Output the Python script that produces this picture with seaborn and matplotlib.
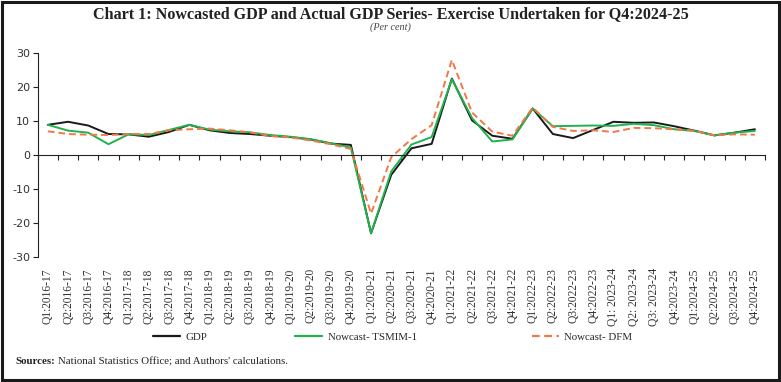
import matplotlib
matplotlib.use("Agg")
import matplotlib.pyplot as plt
import seaborn as sns
import pandas as pd
import numpy as np
from matplotlib.patches import Rectangle
from matplotlib.lines import Line2D

quarters = [
    "Q1:2016-17", "Q2:2016-17", "Q3:2016-17", "Q4:2016-17",
    "Q1:2017-18", "Q2:2017-18", "Q3:2017-18", "Q4:2017-18",
    "Q1:2018-19", "Q2:2018-19", "Q3:2018-19", "Q4:2018-19",
    "Q1:2019-20", "Q2:2019-20", "Q3:2019-20", "Q4:2019-20",
    "Q1:2020-21", "Q2:2020-21", "Q3:2020-21", "Q4:2020-21",
    "Q1:2021-22", "Q2:2021-22", "Q3:2021-22", "Q4:2021-22",
    "Q1:2022-23", "Q2:2022-23", "Q3:2022-23", "Q4:2022-23",
    "Q1: 2023-24", "Q2: 2023-24", "Q3: 2023-24", "Q4:2023-24",
    "Q1:2024-25", "Q2:2024-25", "Q3:2024-25", "Q4:2024-25",
]
gdp = [8.9, 9.8, 8.7, 6.2, 6.1, 5.4, 6.8, 8.9, 7.3, 6.5, 6.2, 5.7,
       5.3, 4.6, 3.4, 3.0, -23.0, -5.8, 2.0, 3.3, 22.5, 10.2, 5.7, 4.8,
       13.7, 6.2, 5.0, 7.4, 9.8, 9.5, 9.6, 8.5, 7.2, 5.8, 6.6, 7.6]
tsmim = [8.9, 7.2, 6.6, 3.2, 6.1, 5.9, 7.4, 8.9, 7.5, 7.0, 6.7, 5.9,
         5.4, 4.7, 3.5, 2.2, -23.0, -4.8, 3.1, 5.3, 22.3, 10.9, 4.0, 4.6,
         13.7, 8.5, 8.6, 8.7, 8.6, 9.2, 8.8, 7.6, 7.1, 5.8, 6.6, 7.1]
dfm = [7.0, 6.2, 6.0, 5.9, 6.2, 6.2, 7.3, 7.6, 7.8, 7.3, 6.7, 5.6,
       5.2, 4.3, 3.2, 1.8, -17.2, -0.6, 4.7, 8.8, 28.0, 12.5, 6.9, 5.7,
       14.0, 8.3, 7.1, 7.3, 6.8, 8.0, 7.9, 7.6, 7.2, 5.8, 6.1, 6.0]

series_names = ["GDP", "Nowcast- TSMIM-1", "Nowcast- DFM"]
colors = {"GDP": "#1a1a1a", "Nowcast- TSMIM-1": "#22b24c", "Nowcast- DFM": "#f0784a"}
dashes = {"GDP": "", "Nowcast- TSMIM-1": "", "Nowcast- DFM": (3.5, 2)}

idx = np.arange(len(quarters))
df = pd.concat([
    pd.DataFrame({"x": idx, "value": gdp, "series": "GDP"}),
    pd.DataFrame({"x": idx, "value": tsmim, "series": "Nowcast- TSMIM-1"}),
    pd.DataFrame({"x": idx, "value": dfm, "series": "Nowcast- DFM"}),
], ignore_index=True)

sns.set_theme(style="white")
plt.rcParams["font.family"] = ["DejaVu Sans"]
plt.rcParams["axes.unicode_minus"] = False

W, H = 781, 382
fig = plt.figure(figsize=(W / 100, H / 100), dpi=100)
ax = fig.add_axes([0.0483, 0.327, 0.9312, 0.534])

sns.lineplot(data=df, x="x", y="value", hue="series", style="series",
             hue_order=series_names, style_order=series_names,
             palette=colors, dashes=dashes, linewidth=1.4, ax=ax, legend=False)

ax.set_xlim(-0.5, len(quarters) - 0.5)
ax.set_ylim(-30, 30)
ax.set_yticks([-30, -20, -10, 0, 10, 20, 30])
ax.tick_params(axis="y", labelsize=8, length=3.5, width=0.8, color="#222222",
               labelcolor="#333333", direction="out", left=True, pad=2)
ax.set_xlabel("")
ax.set_ylabel("")

for s in ["top", "right"]:
    ax.spines[s].set_visible(False)
ax.spines["left"].set_color("#222222")
ax.spines["left"].set_linewidth(0.8)
ax.spines["bottom"].set_position(("data", 0))
ax.spines["bottom"].set_color("#222222")
ax.spines["bottom"].set_linewidth(0.8)
ax.set_xticks(np.arange(-0.5, len(quarters), 1.0))
ax.tick_params(axis="x", bottom=True, length=3.5, width=0.8, color="#222222",
               direction="out", labelbottom=False)

sec = ax.secondary_xaxis("bottom")
sec.set_xticks(idx)
sec.set_xticklabels(quarters, rotation=90, fontsize=8.3, color="#333333",
                    family="Liberation Serif")
sec.tick_params(length=0, pad=8)
sec.spines["bottom"].set_visible(False)

# Title & subtitle
fig.text(0.5, 0.963, "Chart 1: Nowcasted GDP and Actual GDP Series- Exercise Undertaken for Q4:2024-25",
         ha="center", va="center", fontsize=11.6, fontweight="bold",
         family="Liberation Serif", color="#222222")
fig.text(0.5, 0.928, "(Per cent)", ha="center", va="center", fontsize=7.3,
         style="italic", family="Liberation Serif", color="#444444")

# Legend (three separate entries positioned like the reference)
leg_x = [153, 295, 532]
for name, lx in zip(series_names, leg_x):
    h = Line2D([0], [0], color=colors[name], lw=1.6,
               linestyle=(0, dashes[name]) if dashes[name] else "-")
    fig.legend([h], [name], loc="center left",
               bbox_to_anchor=(lx / W, 1 - 337 / H),
               frameon=False, handlelength=2.5, handletextpad=0.5,
               borderpad=0, borderaxespad=0,
               prop={"family": "Liberation Serif", "size": 7.8})

# Sources
src_label = fig.text(15 / W, 1 - 362 / H, "Sources:", ha="left", va="center",
                     fontsize=7.8, fontweight="bold", family="Liberation Serif",
                     color="#222222")
renderer = fig.canvas.get_renderer()
bb = src_label.get_window_extent(renderer=renderer)
fig.text((bb.x1 + 3) / W, 1 - 362 / H,
         "National Statistics Office; and Authors' calculations.",
         ha="left", va="center", fontsize=7.8, family="Liberation Serif",
         color="#222222")

fig.patches.append(Rectangle((0.002, 0.004), 0.996, 0.992, transform=fig.transFigure,
                             fill=False, edgecolor="#1a1a1a", linewidth=2.2))

fig.savefig("out.png", dpi=100)
